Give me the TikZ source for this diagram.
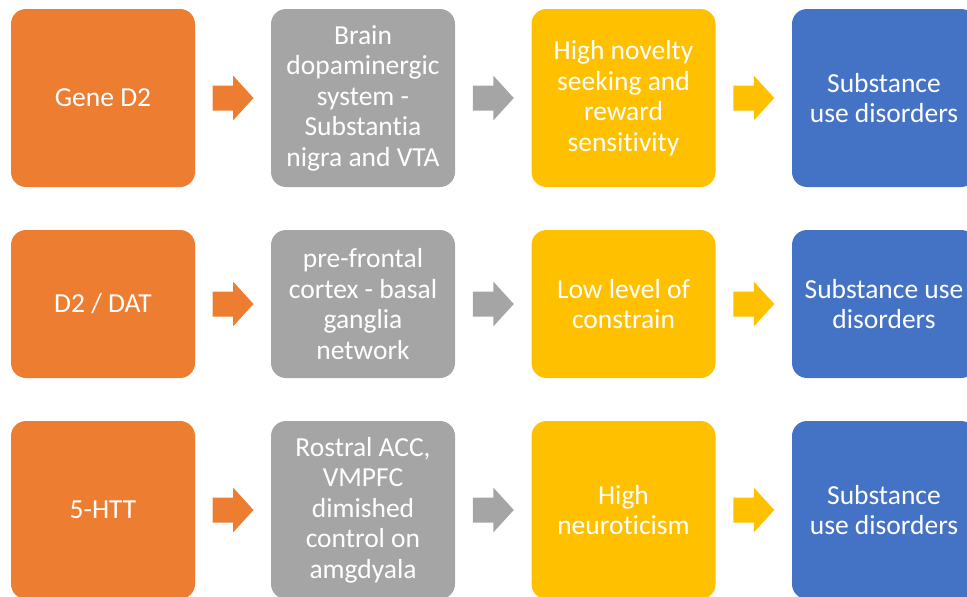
\documentclass[tikz,border=0pt]{standalone}
\usepackage{fontspec}
\setmainfont{Carlito}[Ligatures=NoCommon]
\definecolor{cOrange}{HTML}{ED7D31}
\definecolor{cGray}{HTML}{A5A5A5}
\definecolor{cYellow}{HTML}{FFC000}
\definecolor{cBlue}{HTML}{4472C4}
\tikzset{
  box/.style={rounded corners=15pt, minimum width=184pt, inner sep=0pt, text=white, align=center,
    font=\fontsize{27.5}{30.5}\selectfont},
  rowA/.style={minimum height=178pt},
  rowB/.style={minimum height=148pt},
  rowC/.style={minimum height=178pt},
}
\newcommand{\blockarrow}[3]{%
  \path ($(#1.east)!0.5!(#2.west)$) coordinate (m-#1);
  \fill[#3] ([shift={(-20.5pt,12.5pt)}]m-#1) -- ([shift={(0pt,12.5pt)}]m-#1) -- ([shift={(0pt,22.5pt)}]m-#1)
    -- ([shift={(20.5pt,0pt)}]m-#1) -- ([shift={(0pt,-22.5pt)}]m-#1) -- ([shift={(0pt,-12.5pt)}]m-#1)
    -- ([shift={(-20.5pt,-12.5pt)}]m-#1) -- cycle;}
\usetikzlibrary{calc}
\begin{document}
\begin{tikzpicture}[x=1pt,y=-1pt]
\useasboundingbox (0,0) rectangle (967,597);
\clip (0,0) rectangle (967,597);
% row 1
\node[box,rowA,fill=cOrange] (a1) at (103,98) {Gene D2};
\node[box,rowA,fill=cGray] (b1) at (363,98) {Brain\\dopaminergic\\system -\\Substantia\\nigra and VTA};
\node[box,rowA,fill=cYellow] (c1) at (623.5,98) {High novelty\\seeking and\\reward\\sensitivity};
\node[box,rowA,fill=cBlue] (d1) at (884,98) {Substance\\use disorders};
% row 2
\node[box,rowB,fill=cOrange] (a2) at (103,304) {D2 / DAT};
\node[box,rowB,fill=cGray] (b2) at (363,304) {pre-frontal\\cortex - basal\\ganglia\\network};
\node[box,rowB,fill=cYellow] (c2) at (623.5,304) {Low level of\\constrain};
\node[box,rowB,fill=cBlue] (d2) at (884,304) {Substance use\\disorders};
% row 3
\node[box,rowC,fill=cOrange] (a3) at (103,510) {5-HTT};
\node[box,rowC,fill=cGray] (b3) at (363,510) {Rostral ACC,\\VMPFC\\dimished\\control on\\amgdyala};
\node[box,rowC,fill=cYellow] (c3) at (623.5,510) {High\\neuroticism};
\node[box,rowC,fill=cBlue] (d3) at (884,510) {Substance\\use disorders};
% arrows
\blockarrow{a1}{b1}{cOrange}
\blockarrow{b1}{c1}{cGray}
\blockarrow{c1}{d1}{cYellow}
\blockarrow{a2}{b2}{cOrange}
\blockarrow{b2}{c2}{cGray}
\blockarrow{c2}{d2}{cYellow}
\blockarrow{a3}{b3}{cOrange}
\blockarrow{b3}{c3}{cGray}
\blockarrow{c3}{d3}{cYellow}
\end{tikzpicture}
\end{document}
